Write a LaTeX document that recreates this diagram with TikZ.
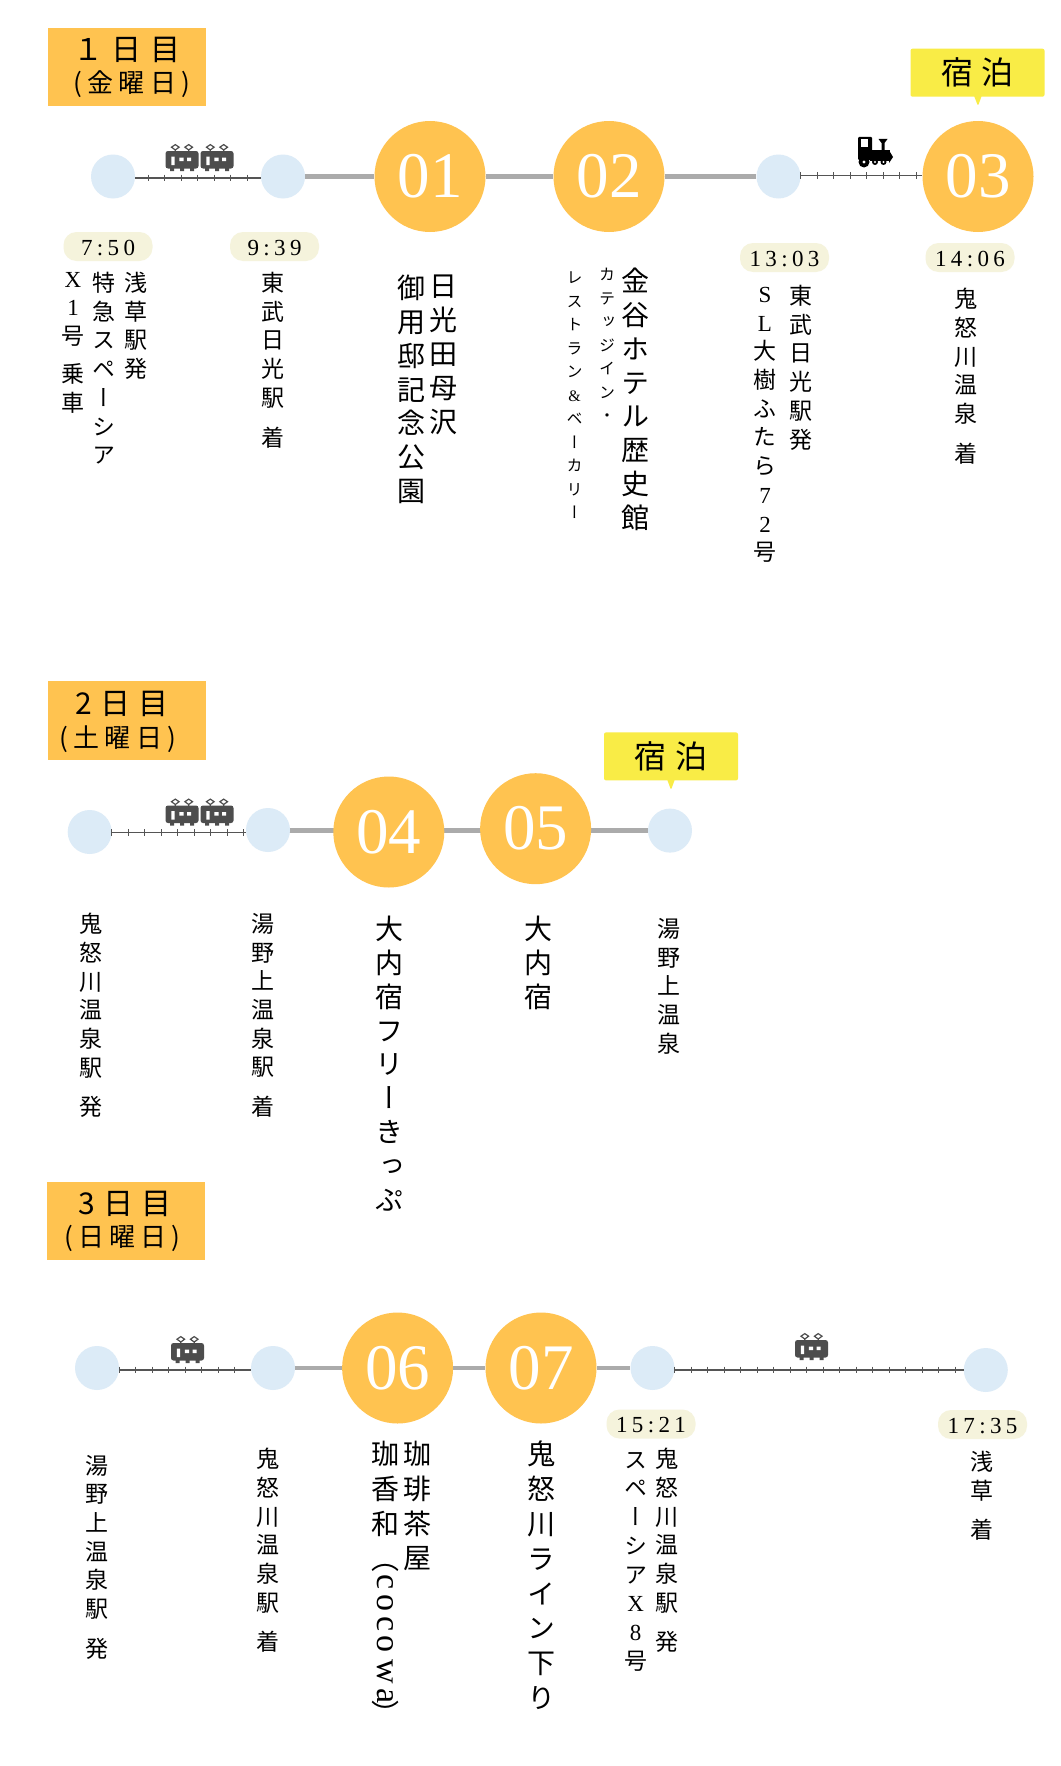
\documentclass[tikz,border=0pt]{standalone}
\usepackage{graphicx}
\usepackage{fontspec}
\setmainfont{Liberation Serif}
\newfontfamily\cjk[RawFeature=+vert]{Noto Sans CJK JP}
\newfontfamily\dayfont[LetterSpace=28]{Noto Sans CJK JP}
\newfontfamily\weekfont[LetterSpace=20]{Noto Sans CJK JP}
\newfontfamily\timefont[LetterSpace=19]{Liberation Serif}
\newcommand\vfont[2]{\cjk\fontsize{#1}{#2}\selectfont\lineskiplimit=-100pt\relax}
\newcommand\lat[1]{{\rmfamily #1}}
\newcommand\rot[1]{\rotatebox[origin=c]{-90}{\rmfamily\fontsize{34}{34}\selectfont #1}}
\usetikzlibrary{shapes.callouts,decorations.pathreplacing,backgrounds}
\definecolor{stoporange}{HTML}{FFC350}
\definecolor{halt}{HTML}{DCEBF7}
\definecolor{pill}{HTML}{F5F3DC}
\definecolor{lodge}{HTML}{F9EC46}
\definecolor{trunkgray}{HTML}{ABABAB}
\definecolor{railgray}{HTML}{555555}
\definecolor{traingray}{HTML}{4D4D4D}
\tikzset{
	daybox/.style={rectangle, fill=stoporange, inner sep=0pt, minimum width=158pt, minimum height=78.5pt},
	dayup/.style={inner sep=0pt, font=\dayfont\fontsize{30}{30}\selectfont},
	daydown/.style={inner sep=0pt, font=\weekfont\fontsize{26}{26}\selectfont},
	spot/.style={circle, fill=stoporange, inner sep=0pt, minimum size=111pt, text=white, text height=42pt, text depth=0pt, font=\fontsize{65}{65}\selectfont},
	halt/.style={circle, fill=halt, inner sep=0pt, minimum size=44pt},
	clock/.style={rectangle, rounded corners=13pt, fill=pill, inner sep=0pt, minimum width=89pt, minimum height=29pt, text height=17.5pt, text depth=0pt, font=\timefont\fontsize{23}{23}\selectfont},
	lodge/.style={rectangle callout, rounded corners=2pt, fill=lodge, inner sep=0pt, callout pointer width=7pt, minimum width=134pt, minimum height=48pt, font=\dayfont\fontsize{32}{32}\selectfont},
	trunk/.style={draw=trunkgray, line width=4.5pt},
	rail/.style={draw=railgray, line width=1.2pt, postaction={draw=railgray, line width=1pt, decorate, decoration={ticks, segment length=16.5pt, amplitude=3.4pt, pre=moveto, #1}}},
	rail/.default={pre length=0pt},
	vsmall/.style={anchor=north, inner sep=0pt, align=center, font=\vfont{23}{28.7}},
	vbig/.style={anchor=north, inner sep=0pt, align=center, font=\vfont{28}{33.8}},
	vbigger/.style={anchor=north, inner sep=0pt, align=center, font=\vfont{28}{34.8}},
	vtiny/.style={anchor=north, inner sep=0pt, align=center, font=\vfont{16}{23.5}},
	traincar/.pic={
		\fill[traingray, rounded corners=2.5pt] (-16.5,7) rectangle (16.5,24.5);
		\fill[traingray] (-12,24) rectangle (-8,27) (-2,24) rectangle (2,27) (8,24) rectangle (12,27);
		\draw[traingray, line width=1.2pt] (-6.7,8) -- (-6.7,6) -- (-10.5,3.2) -- (-6.7,0.6) -- (-2.9,3.2) -- (-6.7,6) (6.7,8) -- (6.7,6) -- (2.9,3.2) -- (6.7,0.6) -- (10.5,3.2) -- (6.7,6);
		\fill[white] (-10.7,12.5) rectangle (-7.3,21) (-2.7,13.5) rectangle (1.7,17) (5,13.5) rectangle (9,17);
	},
	steamer/.pic={
		\fill[black, rounded corners=1pt] (1,-1) rectangle (15,22);
		\fill[white] (3.5,1) rectangle (11,9);
		\fill[black] (13,12) rectangle (33,23);
		\fill[black] (21.5,1) -- (30.5,1) -- (27.5,5) -- (27.5,13) -- (24.5,13) -- (24.5,5) -- cycle;
		\fill[black] (33,14) -- (36,19) -- (32,25) -- cycle;
		\fill[black] (7,24) circle (5.5pt) (18,24) circle (3pt) (26.5,24) circle (3pt);
		\fill[white] (7,24) circle (1.6pt) (18,24) circle (1.1pt) (26.5,24) circle (1.1pt);
	},
}
\begin{document}
\begin{tikzpicture}[x=1pt, y=-1pt]
	\begin{scope}[on background layer]
		\path[use as bounding box, fill=white] (0,0) rectangle (1060,1766);
	\end{scope}

	% day one
	\node [daybox] (day1) at (127,67) {};
	\node [dayup] (day1up) at (127,50) {１日目};
	\node [daydown] (day1down) at (132,84) {(金曜日)};

	\node [halt] (a1) at (113,176.5) {};
	\node [halt] (a2) at (283,176.5) {};
	\node [spot] (s01) at (430,176.5) {01};
	\node [spot] (s02) at (609,176.5) {02};
	\node [halt] (a3) at (778.5,176.5) {};
	\node [spot] (s03) at (978,176.5) {03};

	\draw [rail={pre length=13pt}] ([yshift=-1.5pt]a1.east) -- ([yshift=-1.5pt]a2.west);
	\draw [trunk] (a2) -- (s01);
	\draw [trunk] (s01) -- (s02);
	\draw [trunk] (s02) -- (a3);
	\draw [rail] ([yshift=0.8pt]a3.east) -- ([yshift=0.8pt]s03.west);

	\pic at (182,144) {traincar};
	\pic at (217,144) {traincar};
	\pic at (857,138) {steamer};

	\node [lodge, callout absolute pointer={(978,106)}] (stay1) at (977.5,72.7) {宿泊};

	\node [clock] (c1) at (108,246.5) {7:50};
	\node [clock] (c2) at (274.5,246.5) {9:39};
	\node [clock] (c3) at (784.5,257.5) {13:03};
	\node [clock] (c4) at (970,257.5) {14:06};

	\node [vsmall] (t1a) at (136,272) {浅\\草\\駅\\発};
	\node [vsmall] (t1b) at (104,272) {特\\急\\ス\\ペ\\ー\\シ\\ア};
	\node [vsmall] (t1c) at (73,272) {\lat{X}\\\lat{1}\\号\\[9pt]乗\\車};
	\node [vsmall] (t1d) at (273,272) {東\\武\\日\\光\\駅\\[11pt]着};
	\node [vbig] (t1e) at (443.5,275) {日\\光\\田\\母\\沢};
	\node [vbig] (t1f) at (411,275) {御\\用\\邸\\記\\念\\公\\園};
	\node [vbig] (t1g) at (635,268) {金\\谷\\ホ\\テ\\ル\\歴\\史\\館};
	\node [vtiny] (t1h) at (607,268) {カ\\テ\\ッ\\ジ\\イ\\ン\\・};
	\node [vtiny] (t1i) at (574.6,272) {レ\\ス\\ト\\ラ\\ン\\\lat{\&}\\ベ\\ー\\カ\\リ\\ー};
	\node [vsmall] (t1j) at (800.5,285) {東\\武\\日\\光\\駅\\発};
	\node [vsmall] (t1k) at (765,287) {\lat{S}\\\lat{L}\\大\\樹\\ふ\\た\\ら\\\lat{7}\\\lat{2}\\号};
	\node [vsmall] (t1l) at (966,288) {鬼\\怒\\川\\温\\泉\\[11pt]着};

	% day two
	\node [daybox] (day2) at (127,720.7) {};
	\node [dayup] (day2up) at (122,703.6) {2日目};
	\node [daydown] (day2down) at (118,739) {(土曜日)};

	\node [halt] (b1) at (89.7,832) {};
	\node [halt] (b2) at (268,830) {};
	\node [spot] (s04) at (388.8,832) {04};
	\node [spot] (s05) at (535.6,828.7) {05};
	\node [halt] (b3) at (670,830.6) {};

	\draw [rail] ([yshift=-0.5pt]b1.east) -- ([yshift=-0.5pt]b1.east -| b2.west);
	\begin{scope}[on background layer]
		\draw [trunk] (b2 |- b3) -- (s04 |- b3);
		\draw [trunk] (s04 |- b3) -- (s05 |- b3);
		\draw [trunk] (s05 |- b3) -- (b3);
	\end{scope}

	\pic at (182,798.5) {traincar};
	\pic at (217,798.5) {traincar};

	\node [lodge, callout absolute pointer={(671,790)}] (stay2) at (671,756.4) {宿泊};

	\node [vsmall] (t2a) at (90.6,913) {鬼\\怒\\川\\温\\泉\\駅\\[11pt]発};
	\node [vsmall] (t2b) at (262.7,913) {湯\\野\\上\\温\\泉\\駅\\[11pt]着};
	\node [vbig] (t2c) at (389.7,916) {大\\内\\宿\\フ\\リ\\ー\\き\\っ\\ぷ};
	\node [vbig] (t2d) at (538,916) {大\\内\\宿};
	\node [vsmall] (t2e) at (669,918) {湯\\野\\上\\温\\泉};

	% day three
	\node [daybox] (day3) at (126,1221) {};
	\node [dayup] (day3up) at (125,1203.8) {3日目};
	\node [daydown] (day3down) at (122.5,1238) {(日曜日)};

	\node [halt] (d1) at (97,1368) {};
	\node [halt] (d2) at (273,1368) {};
	\node [spot] (s06) at (397.6,1368) {06};
	\node [spot] (s07) at (541,1368) {07};
	\node [halt] (d3) at (652.5,1368) {};
	\node [halt] (d4) at (985.8,1370) {};

	\draw [rail] ([yshift=-2pt]d1.east) -- ([yshift=-2pt]d2.west);
	\draw [trunk] (d2) -- (s06);
	\draw [trunk] (s06) -- (s07);
	\draw [trunk] (s07) -- (d3);
	\draw [rail] ([yshift=-2pt]d3.east) -- (d4.west);

	\pic at (187.5,1336) {traincar};
	\pic at (811.5,1333) {traincar};

	\node [clock] (c5) at (651,1424) {15:21};
	\node [clock] (c6) at (982.5,1424.5) {17:35};

	\node [vsmall] (t3a) at (96.7,1454.7) {湯\\野\\上\\温\\泉\\駅\\[11pt]発};
	\node [vsmall] (t3b) at (268.4,1448) {鬼\\怒\\川\\温\\泉\\駅\\[11pt]着};
	\node [vbigger] (t3c) at (417,1441) {珈\\琲\\茶\\屋};
	\node [vbigger] (t3d) at (385.4,1441) {珈\\香\\和\\（\\[-14pt]\rot{c}\\[-14pt]\rot{o}\\[-14pt]\rot{c}\\[-14pt]\rot{o}\\[-8pt]\rot{w}\\[-10pt]\rot{a}\\[-14pt]）};
	\node [vbigger] (t3e) at (541,1441) {鬼\\怒\\川\\ラ\\イ\\ン\\下\\り};
	\node [vsmall] (t3f) at (667,1448) {鬼\\怒\\川\\温\\泉\\駅\\[11pt]発};
	\node [vsmall] (t3g) at (635.6,1452) {ス\\ペ\\ー\\シ\\ア\\\lat{X}\\\lat{8}\\号};
	\node [vsmall] (t3h) at (982,1451) {浅\\草\\[11pt]着};
\end{tikzpicture}
\end{document}
